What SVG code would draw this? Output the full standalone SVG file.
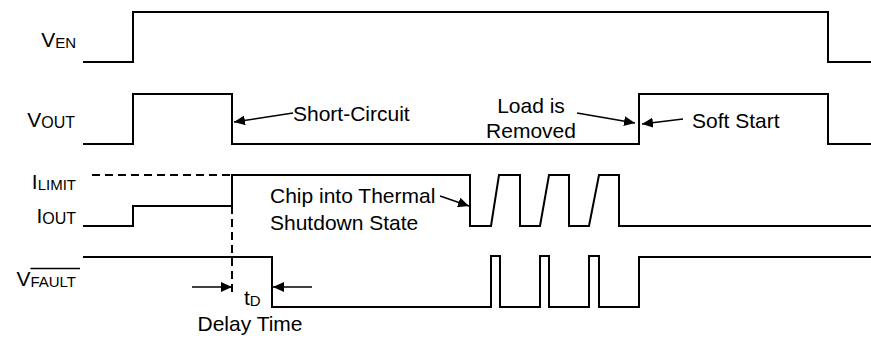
<svg xmlns="http://www.w3.org/2000/svg" width="871" height="338" viewBox="0 0 871 338">
<defs>
<style>
text{font-family:"Liberation Sans",Arial,sans-serif;font-size:21px;fill:#000}
.sub{font-size:15px}
.sub16{font-size:16px}
.w{fill:none;stroke:#000;stroke-width:2;stroke-linejoin:miter}
.d{fill:none;stroke:#000;stroke-width:2;stroke-dasharray:8 5}
.a{fill:none;stroke:#000;stroke-width:1.5;marker-end:url(#ah)}
.ol{fill:none;stroke:#000;stroke-width:1.3}
</style>
<marker id="ah" markerUnits="userSpaceOnUse" markerWidth="12" markerHeight="10" refX="11" refY="5" orient="auto">
<path d="M0,0 L11,5 L0,10 Z" fill="#000"/>
</marker>
</defs>
<rect width="871" height="338" fill="#fff"/>
<g id="ven">
<text x="76" y="47" text-anchor="end">V<tspan class="sub" dy="1">EN</tspan></text>
<path class="w" d="M83,62 H133 V12 H828 V62 H871"/>
</g>
<g id="vout">
<text x="75" y="127" text-anchor="end">V<tspan class="sub16" dy="1">OUT</tspan></text>
<path class="w" d="M83,144 H133 V94 H232 V144 H639 V94 H828 V144 H871"/>
</g>
<g id="ilimit">
<text x="76" y="189" text-anchor="end">I<tspan class="sub" dy="1">LIMIT</tspan></text>
<path class="d" d="M92,175 H232"/>
</g>
<g id="iout">
<text x="76" y="223" text-anchor="end">I<tspan class="sub16" dy="1">OUT</tspan></text>
<path class="w" d="M83,226 H133 V206 H232 V175 H470 V226 H491 L499,175 H520 V226 H540 L549,175 H569 V226 H589 L599,175 H619 V226 H871"/>
</g>
<g id="vfault">
<text x="76" y="286" text-anchor="end">V<tspan class="sub" dy="1">FAULT</tspan></text>
<path class="ol" d="M30.5,268.5 H80"/>
<path class="w" d="M83,257 H272 V307 H491 V256 H500 V307 H540 V256 H549 V307 H589 V256 H599 V307 H639 V257 H871"/>
</g>
<g id="delay">
<path class="d" d="M232,206 V293"/>
<text x="244" y="305">t<tspan class="sub" dy="1">D</tspan></text>
<text x="250" y="331" text-anchor="middle">Delay Time</text>
</g>
<g id="labels">
<text x="293" y="121">Short-Circuit</text>
<text x="531" y="113" text-anchor="middle">Load is</text>
<text x="531" y="138" text-anchor="middle">Removed</text>
<text x="692" y="128">Soft Start</text>
<text x="270" y="203">Chip into Thermal</text>
<text x="270" y="230">Shutdown State</text>
</g>
<g id="connectors">
<path class="a" d="M293,113 L234,122"/>
<path class="a" d="M577,113 L635,123"/>
<path class="a" d="M683,119 L642,124"/>
<path class="a" d="M440,196 L469,206"/>
<path class="a" d="M192,287 L232,287"/>
<path class="a" d="M312,287 L273,287"/>
</g>
</svg>
